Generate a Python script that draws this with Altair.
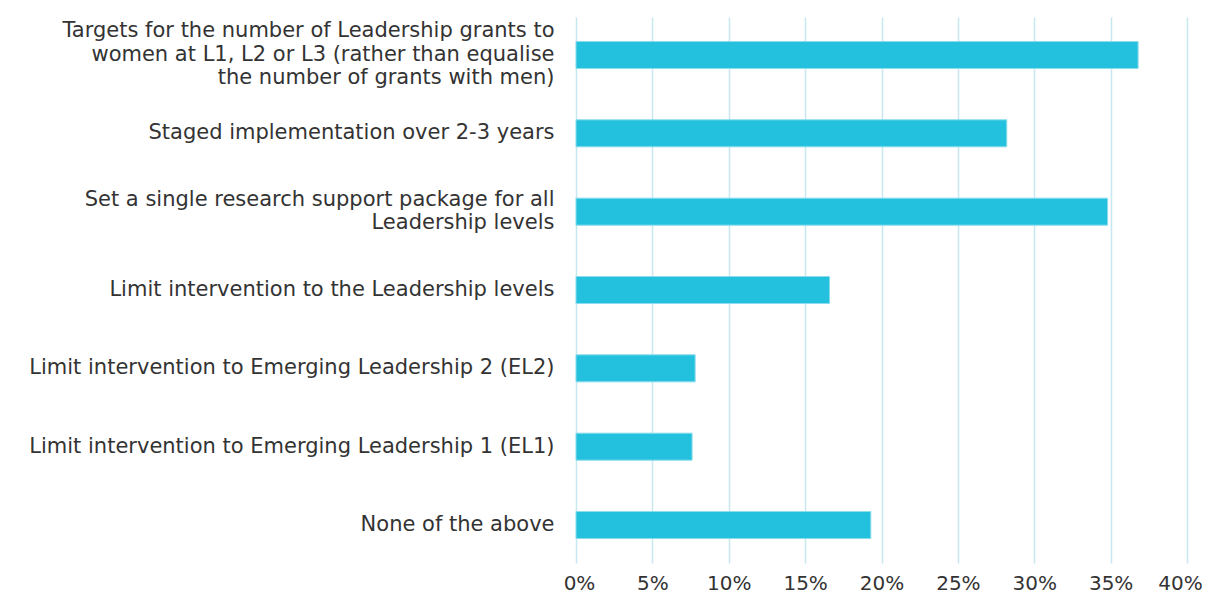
import altair as alt
import pandas as pd

categories = [
    "Targets for the number of Leadership grants to|women at L1, L2 or L3 (rather than equalise|the number of grants with men)",
    "Staged implementation over 2-3 years",
    "Set a single research support package for all|Leadership levels",
    "Limit intervention to the Leadership levels",
    "Limit intervention to Emerging Leadership 2 (EL2)",
    "Limit intervention to Emerging Leadership 1 (EL1)",
    "None of the above",
]
values = [0.368, 0.282, 0.348, 0.166, 0.078, 0.076, 0.193]
x_ticks = [0, 0.05, 0.10, 0.15, 0.20, 0.25, 0.30, 0.35, 0.40]

df = pd.DataFrame({"option": categories, "share": values})

FONT = "DejaVu Sans"
LH = 23.5

chart = alt.Chart(df).mark_bar(
    color="#23C1DE", stroke="#8BDCEC", strokeWidth=1
).encode(
    x=alt.X(
        "share:Q",
        scale=alt.Scale(domain=[0, 0.40], nice=False),
        axis=alt.Axis(
            values=x_ticks, format=".0%", title=None, domain=False,
            grid=True, gridColor="#C6E8F0", gridWidth=1.5,
            ticks=False,
            labelFont=FONT, labelFontSize=20, labelColor="#333333",
            labelPadding=10, labelFlush=False,
            labelOffset=alt.ExprRef(
                "datum.value == 0 ? 3 : (datum.value >= 0.399 ? -7 : 0)"
            ),
        ),
    ),
    y=alt.Y(
        "option:N", sort=None, title=None,
        scale=alt.Scale(paddingInner=0.655, paddingOuter=0.3125),
        axis=alt.Axis(
            domain=False, ticks=False, grid=False,
            labelExpr="split(datum.label, '|')",
            labelFont=FONT, labelFontSize=21, labelColor="#333333",
            labelPadding=22, labelLimit=600, labelLineHeight=LH,
            labelOffset=alt.ExprRef(
                f"-(length(split(datum.label, '|')) - 1) * {LH / 2}"
            ),
        ),
    ),
).properties(
    width=611, height=546,
    autosize=alt.AutoSizeParams(type="none"),
    padding={"left": 568, "top": 9, "right": 15, "bottom": 34},
).configure_view(stroke=None)

chart.save("out.html", embed_options={"renderer": "svg", "actions": False})
